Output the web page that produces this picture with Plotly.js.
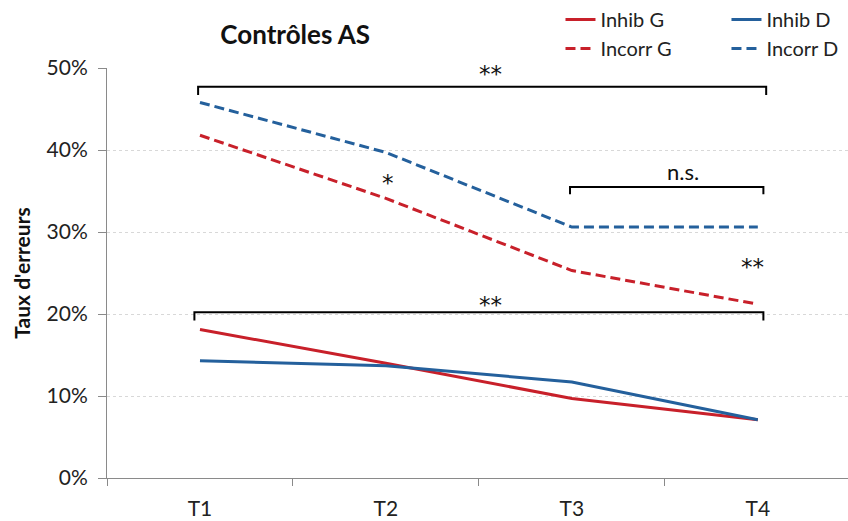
<!DOCTYPE html>
<html>
<head>
<meta charset="utf-8">
<script src="https://cdn.plot.ly/plotly-3.0.1.min.js"></script>
<style>html,body{margin:0;padding:0;background:#fff;}#chart{width:848px;height:521px;}</style>
</head>
<body>
<div id="chart"></div>
<script>
const categories = ['T1', 'T2', 'T3', 'T4'];
const inhibG = [18.1, 14.0, 9.7, 7.1];
const inhibD = [14.3, 13.7, 11.7, 7.1];
const incorrG = [41.8, 34.1, 25.3, 21.2];
const incorrD = [45.8, 39.7, 30.6, 30.6];
const seriesNames = ['Inhib G', 'Inhib D', 'Incorr G', 'Incorr D'];

const RED = 'rgb(200,32,42)';
const BLUE = 'rgb(36,96,156)';
const FONT = 'Lato, "Open Sans", sans-serif';
const STAR = '"DejaVu Sans", sans-serif';

const traces = [
  {x: categories, y: inhibG, name: seriesNames[0], mode: 'lines', line: {color: RED, width: 3}, legend: 'legend'},
  {x: categories, y: inhibD, name: seriesNames[1], mode: 'lines', line: {color: BLUE, width: 3}, legend: 'legend2'},
  {x: categories, y: incorrG, name: seriesNames[2], mode: 'lines', line: {color: RED, width: 3, dash: '10px,5px'}, legend: 'legend'},
  {x: categories, y: incorrD, name: seriesNames[3], mode: 'lines', line: {color: BLUE, width: 3, dash: '10px,5px'}, legend: 'legend2'}
];

function bracket(x0, x1, y, drop) {
  return {type: 'path', xref: 'x', yref: 'y',
    path: `M ${x0} ${y - drop} L ${x0} ${y} L ${x1} ${y} L ${x1} ${y - drop}`,
    line: {color: 'black', width: 2}};
}

const legendBase = {orientation: 'v', yanchor: 'top', xanchor: 'left', y: 1.167,
  font: {family: FONT, size: 20, color: '#222'}, bgcolor: 'rgba(0,0,0,0)', tracegroupgap: 0};

const starFont = {family: STAR, size: 23, color: '#111'};

const layout = {
  width: 848, height: 521,
  margin: {l: 107, r: 0, t: 68, b: 43},
  paper_bgcolor: 'white', plot_bgcolor: 'white',
  font: {family: FONT, color: '#222'},
  title: {text: '<b>Contrôles AS</b>', font: {family: FONT, size: 26, color: '#111'},
    x: 0.254, xref: 'paper', xanchor: 'center', y: 0.933, yref: 'container', yanchor: 'middle'},
  xaxis: {type: 'category', range: [-0.5, 3.485], tickson: 'boundaries', ticks: 'outside', ticklen: 7,
    tickcolor: '#8a8a8a', showline: true, linecolor: '#8a8a8a', linewidth: 1, showgrid: false,
    ticklabelstandoff: 12,
    tickfont: {family: FONT, size: 21, color: '#222'}, zeroline: false, fixedrange: true},
  yaxis: {range: [0, 50], dtick: 10, ticksuffix: '%', ticks: 'outside', ticklen: 8, tickcolor: '#8a8a8a',
    showline: true, linecolor: '#8a8a8a', linewidth: 1, showgrid: true, gridcolor: '#d8d8d8', griddash: 'dot',
    ticklabelstandoff: 6,
    zeroline: false, tickfont: {family: FONT, size: 21, color: '#222'},
    title: {text: '<b>Taux d\'erreurs</b>', font: {family: FONT, size: 21, color: '#111'}, standoff: 10}},
  legend: Object.assign({}, legendBase, {x: 0.612}),
  legend2: Object.assign({}, legendBase, {x: 0.836}),
  shapes: [
    bracket(-0.01, 3.045, 47.7, 1.0),
    bracket(1.99, 3.03, 35.5, 0.9),
    bracket(-0.03, 3.03, 20.2, 1.0)
  ],
  annotations: [
    {x: 1.56, y: 49.3, xref: 'x', yref: 'y', text: '**', showarrow: false, font: starFont},
    {x: 2.6, y: 37.4, xref: 'x', yref: 'y', text: 'n.s.', showarrow: false, font: {family: FONT, size: 22, color: '#111'}},
    {x: 1.56, y: 21.1, xref: 'x', yref: 'y', text: '**', showarrow: false, font: starFont},
    {x: 1.01, y: 36.0, xref: 'x', yref: 'y', text: '*', showarrow: false, font: starFont},
    {x: 2.97, y: 25.7, xref: 'x', yref: 'y', text: '**', showarrow: false, font: starFont}
  ],
  showlegend: true
};

Plotly.newPlot('chart', traces, layout, {displayModeBar: false, staticPlot: true});
</script>
</body>
</html>
